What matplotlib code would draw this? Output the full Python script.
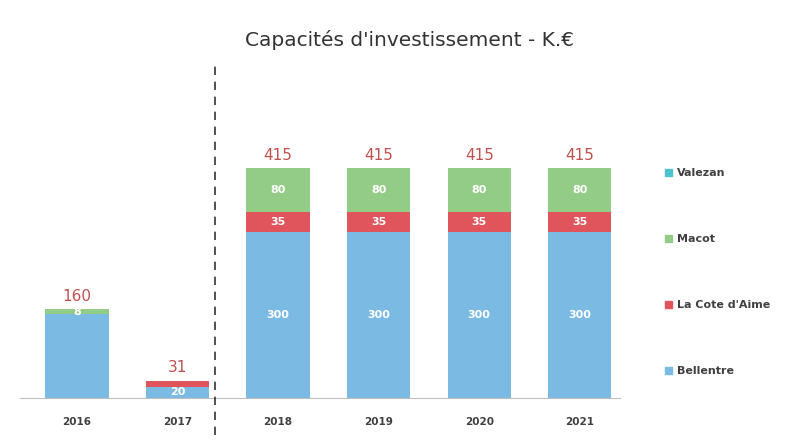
import numpy as np
import matplotlib
matplotlib.use("Agg")
import matplotlib.pyplot as plt
from matplotlib.patches import Patch

years = ["2016", "2017", "2018", "2019", "2020", "2021"]
bellentre = [152, 20, 300, 300, 300, 300]
la_cote = [0, 11, 35, 35, 35, 35]
macot = [8, 0, 80, 80, 80, 80]
valezan = [0, 0, 0, 0, 0, 0]
totals = [160, 31, 415, 415, 415, 415]

series = [
    ("Bellentre", bellentre, "#7bbae3"),
    ("La Cote d'Aime", la_cote, "#e0545c"),
    ("Macot", macot, "#93cc86"),
    ("Valezan", valezan, "#4cc3cf"),
]
# segment labels not shown in the original
hidden = {("Bellentre", 0), ("La Cote d'Aime", 1)}

fig = plt.figure(figsize=(8.07, 4.47), dpi=100)
ax = fig.add_axes([20 / 807, 49 / 447, 600 / 807, 338 / 447])

x = np.arange(len(years)) * 1.0
width = 0.63
bottom = np.zeros(len(years))
for name, vals, col in series:
    vals = np.array(vals, dtype=float)
    ax.bar(x, vals, width, bottom=bottom, color=col, label=name, zorder=2)
    for i, (xi, b, v) in enumerate(zip(x, bottom, vals)):
        if v > 0 and (name, i) not in hidden:
            ax.text(xi, b + v / 2, f"{int(v)}", ha="center", va="center",
                    color="white", fontsize=8, fontweight="bold")
    bottom += vals

for xi, t in zip(x, totals):
    ax.text(xi, t + 10, str(t), ha="center", va="bottom",
            color="#c0504d", fontsize=11)

ax.set_xlim(-0.567, 5.4)
ax.set_ylim(0, 610)
ax.set_xticks(x)
ax.set_xticklabels(years, fontsize=7.5, color="#404040", fontweight="bold")
ax.tick_params(axis="x", length=0, pad=14)
ax.set_yticks([])
for s in ["top", "right", "left"]:
    ax.spines[s].set_visible(False)
ax.spines["bottom"].set_color("#bfbfbf")

# separation between realised and planned years
ax.plot([1.37, 1.37], [-0.11, 0.985], transform=ax.get_xaxis_transform(),
        color="#333333", lw=1.2, ls=(0, (5, 4)), clip_on=False, zorder=3)

fig.text(0.508, 0.91, "Capacités d'investissement - K.€", ha="center",
         va="center", fontsize=14.5, color="#333333")

handles = [Patch(color=c, label=n) for n, _, c in reversed(series)]
leg = fig.legend(handles=handles, loc="upper left",
                 bbox_to_anchor=(655 / 807, 1 - 158 / 447), frameon=False,
                 fontsize=8, labelspacing=5.05, handlelength=0.6,
                 handleheight=0.6, handletextpad=0.5)
for t in leg.get_texts():
    t.set_color("#404040")
    t.set_fontweight("bold")

fig.savefig("out.png", dpi=100, facecolor="white")
